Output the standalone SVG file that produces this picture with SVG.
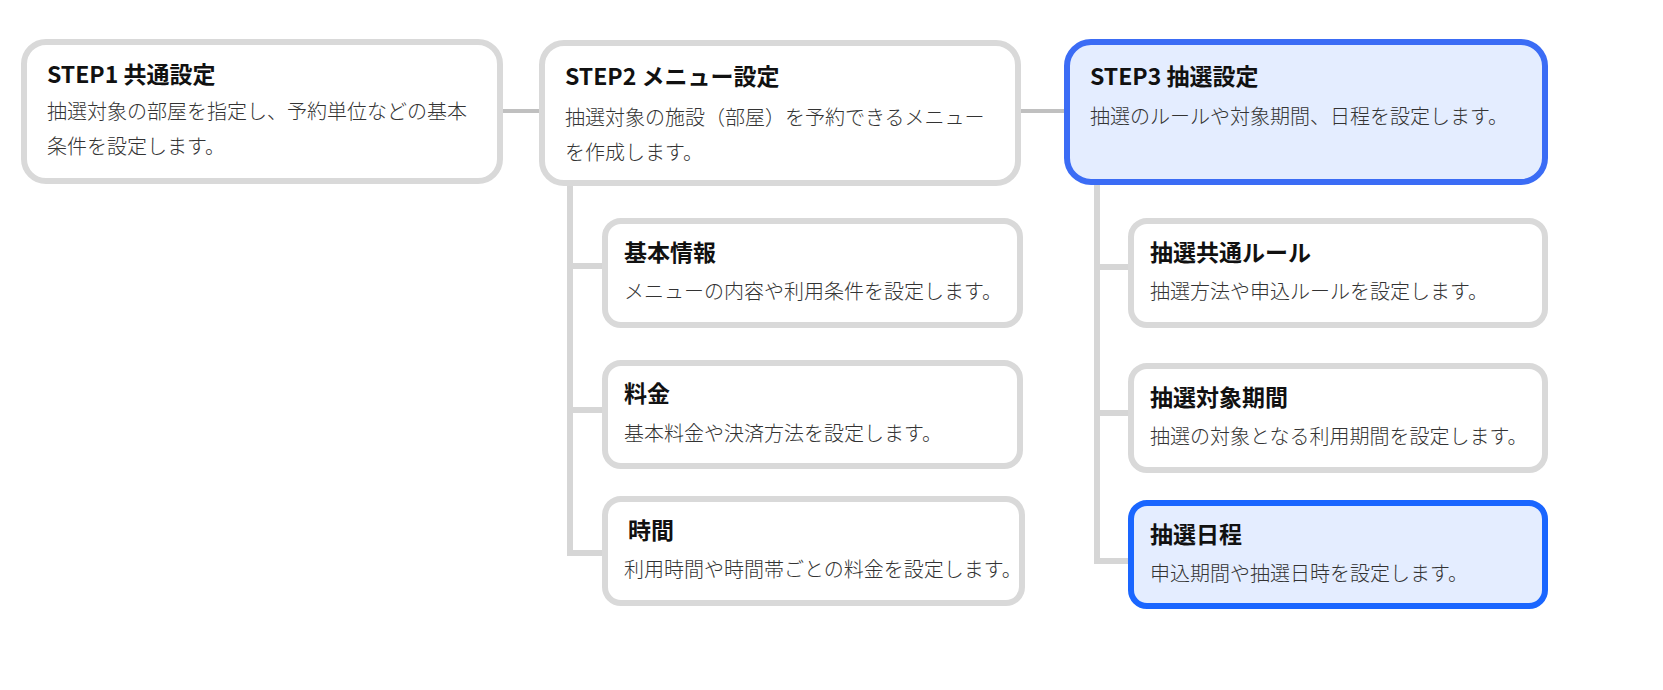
<svg xmlns="http://www.w3.org/2000/svg" width="1663" height="690" viewBox="0 0 1663 690">
<style>
.n{fill:#fff;stroke:#d9d9d9;stroke-width:6}
.h{fill:#e4edff;stroke:#3b6cf5;stroke-width:6}
.h2{fill:#e4edff;stroke:#1a66ff;stroke-width:6}
.c{stroke:#d6d6d6;stroke-width:6;fill:none}
.ch{stroke:#c0c0c0;stroke-width:4;fill:none}
.t{font-family:"Noto Sans CJK JP","Noto Sans",sans-serif;font-weight:700;font-size:23px;fill:#111}
.d{font-family:"Noto Sans CJK JP","Noto Sans",sans-serif;font-weight:300;font-size:20px;fill:#333}
</style>
<rect width="1663" height="690" fill="#fff"/>
<g id="connectors">
<path class="ch" d="M500 111H542M1018 111H1067"/>
<path class="c" d="M570 183V553H605M570 266H605M570 410H605"/>
<path class="c" d="M1097 182V561H1131M1097 267H1131M1097 413H1131"/>
</g>
<g id="step1"><rect class="n" x="24" y="42" width="476" height="139" rx="22"/>
<text class="t" x="47" y="83">STEP1 共通設定</text>
<text class="d" x="47" y="119">抽選対象の部屋を指定し、予約単位などの基本</text>
<text class="d" x="47" y="154">条件を設定します。</text></g>
<g id="step2"><rect class="n" x="542" y="43" width="476" height="140" rx="22"/>
<text class="t" x="565" y="85">STEP2 メニュー設定</text>
<text class="d" x="565" y="125">抽選対象の施設（部屋）を予約できるメニュー</text>
<text class="d" x="565" y="160">を作成します。</text></g>
<g id="step3"><rect class="h" x="1067" y="42" width="478" height="140" rx="24"/>
<text class="t" x="1090" y="85">STEP3 抽選設定</text>
<text class="d" x="1090" y="124">抽選のルールや対象期間、日程を設定します。</text></g>
<g id="kihon"><rect class="n" x="605" y="221" width="415" height="104" rx="16"/>
<text class="t" x="624" y="261">基本情報</text>
<text class="d" x="624" y="299">メニューの内容や利用条件を設定します。</text></g>
<g id="ryokin"><rect class="n" x="605" y="363" width="415" height="103" rx="16"/>
<text class="t" x="624" y="402">料金</text>
<text class="d" x="624" y="441">基本料金や決済方法を設定します。</text></g>
<g id="jikan"><rect class="n" x="605" y="499" width="417" height="104" rx="16"/>
<text class="t" x="628" y="539">時間</text>
<text class="d" x="624" y="577">利用時間や時間帯ごとの料金を設定します。</text></g>
<g id="rule"><rect class="n" x="1131" y="221" width="414" height="104" rx="16"/>
<text class="t" x="1150" y="261">抽選共通ルール</text>
<text class="d" x="1150" y="299">抽選方法や申込ルールを設定します。</text></g>
<g id="kikan"><rect class="n" x="1131" y="366" width="414" height="104" rx="16"/>
<text class="t" x="1150" y="406">抽選対象期間</text>
<text class="d" x="1150" y="444">抽選の対象となる利用期間を設定します。</text></g>
<g id="nittei"><rect class="h2" x="1131" y="503" width="414" height="103" rx="16"/>
<text class="t" x="1150" y="543">抽選日程</text>
<text class="d" x="1150" y="581">申込期間や抽選日時を設定します。</text></g>
</svg>
